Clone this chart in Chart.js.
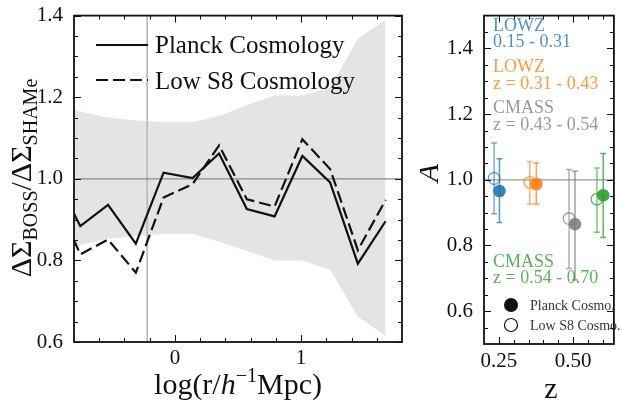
<!DOCTYPE html>
<html>
<head>
<meta charset="utf-8">
<script src="https://cdn.jsdelivr.net/npm/chart.js@4.4.1/dist/chart.umd.min.js"></script>
<style>
  html, body { margin: 0; padding: 0; background: #fff; }
  #wrap { position: relative; width: 621px; height: 407px; overflow: hidden; }
  canvas { position: absolute; top: 0; }
  #left { left: 0; }
  #right { left: 420px; }
</style>
</head>
<body>
<div id="wrap">
  <canvas id="left" width="420" height="407"></canvas>
  <canvas id="right" width="201" height="407"></canvas>
</div>
<script>
// ---- left panel: lensing ratio vs radius ----
const logR     = [-0.97, -0.75, -0.53, -0.31, -0.09, 0.14, 0.35, 0.57, 0.79, 1.01, 1.23, 1.45, 1.67];
const planck   = [1.016, 0.884, 0.936, 0.841, 1.015, 1.002, 1.062, 0.926, 0.908, 1.056, 0.991, 0.792, 0.896];
const lowS8    = [0.965, 0.815, 0.851, 0.770, 0.954, 0.987, 1.082, 0.950, 0.932, 1.097, 1.024, 0.825, 0.948];
const bandHigh = [1.175, 1.165, 1.150, 1.143, 1.139, 1.139, 1.154, 1.180, 1.204, 1.204, 1.223, 1.343, 1.390];
const bandLow  = [0.825, 0.838, 0.853, 0.860, 0.865, 0.865, 0.846, 0.823, 0.800, 0.800, 0.777, 0.662, 0.615];
const refRatio = 1.0;
const refLogR  = -0.22;
const leftXMajor = [0, 1];
const leftXMinor = [-0.6, -0.4, -0.2, 0.2, 0.4, 0.6, 0.8, 1.2, 1.4, 1.6];
const leftYMajor = [0.6, 0.8, 1.0, 1.2, 1.4];
const leftYMinor = [0.65, 0.7, 0.75, 0.85, 0.9, 0.95, 1.05, 1.1, 1.15, 1.25, 1.3, 1.35];

// ---- right panel: amplitude per sample ----
const sampleNames  = ['LOWZ', 'LOWZ', 'CMASS', 'CMASS'];
const sampleRanges = ['0.15 - 0.31', 'z = 0.31 - 0.43', 'z = 0.43 - 0.54', 'z = 0.54 - 0.70'];
const sampleColors = ['#1f77b4', '#ff7f0e', '#7f7f7f', '#2ca02c'];
const zPlanck   = [0.252, 0.376, 0.506, 0.601];
const aPlanck   = [0.966, 0.987, 0.865, 0.953];
const aPlanckLo = [0.870, 0.926, 0.695, 0.824];
const aPlanckHi = [1.064, 1.051, 1.026, 1.080];
const zLowS8    = [0.234, 0.354, 0.486, 0.580];
const aLowS8    = [1.004, 0.992, 0.882, 0.941];
const aLowS8Lo  = [0.897, 0.926, 0.730, 0.840];
const aLowS8Hi  = [1.112, 1.056, 1.031, 1.036];
const refA = 1.0;
const rightXMajor = [0.25, 0.5];
const rightXMinor = [0.3, 0.35, 0.4, 0.45, 0.55, 0.6];
const rightYMajor = [0.6, 0.8, 1.0, 1.2, 1.4];
const rightYMinor = [0.55, 0.65, 0.7, 0.75, 0.85, 0.9, 0.95, 1.05, 1.1, 1.15, 1.25, 1.3, 1.35, 1.45];

const SERIF = "'Liberation Serif', 'DejaVu Serif', serif";
const INK = '#111';
const DASH = [12, 5];

function rgba(hex, a) {
  const n = parseInt(hex.slice(1), 16);
  return `rgba(${n >> 16},${(n >> 8) & 255},${n & 255},${a})`;
}

const pts = (xs, ys) => xs.map((x, i) => ({ x: x, y: ys[i] }));

// text made of pieces (for sub/superscripts), centred on cx along the baseline
function richText(ctx, parts, cx, baseY, angle) {
  ctx.save();
  ctx.translate(cx, baseY);
  ctx.rotate(angle || 0);
  ctx.fillStyle = INK;
  ctx.textBaseline = 'alphabetic';
  let total = 0;
  parts.forEach(p => { ctx.font = p.font; p.w = ctx.measureText(p.t).width; total += p.w; });
  let px = -total / 2;
  parts.forEach(p => { ctx.font = p.font; ctx.fillText(p.t, px, p.dy || 0); px += p.w; });
  ctx.restore();
}

// inward ticks on all sides plus the frame, then any extra drawing
function axisDecor(o) {
  return {
    id: 'axisDecor',
    afterDraw(chart) {
      const { ctx, chartArea: a, scales: { x, y } } = chart;
      ctx.save();
      ctx.strokeStyle = INK;
      ctx.lineWidth = 1.1;
      ctx.beginPath();
      const xt = (vals, len) => vals.forEach(v => {
        const p = Math.round(x.getPixelForValue(v)) + 0.5;
        ctx.moveTo(p, a.bottom); ctx.lineTo(p, a.bottom - len);
        ctx.moveTo(p, a.top); ctx.lineTo(p, a.top + len);
      });
      const yt = (vals, len) => vals.forEach(v => {
        const p = Math.round(y.getPixelForValue(v)) + 0.5;
        ctx.moveTo(a.left, p); ctx.lineTo(a.left + len, p);
        ctx.moveTo(a.right, p); ctx.lineTo(a.right - len, p);
      });
      xt(o.xMajor, 7); xt(o.xMinor, 4);
      yt(o.yMajor, 7); yt(o.yMinor, 4);
      ctx.stroke();
      ctx.lineWidth = 1.8;
      ctx.strokeRect(a.left, a.top, a.right - a.left, a.bottom - a.top);
      ctx.restore();
      o.extra(chart);
    }
  };
}

function scaleOpts(min, max, major, fmt, size) {
  return {
    type: 'linear', min: min, max: max,
    grid: { display: false },
    border: { display: false },
    ticks: { font: { family: SERIF, size: 21 }, color: INK, padding: 3, maxRotation: 0, autoSkip: false, callback: fmt },
    afterBuildTicks: s => { s.ticks = major.map(v => ({ value: v })); },
    afterFit: s => { if (s.isHorizontal()) s.height = size; else s.width = size; }
  };
}

// ---------- left chart ----------
const leftX = scaleOpts(-0.8, 1.8, leftXMajor, v => String(v), 65);
leftX.ticks.padding = -4;

new Chart(document.getElementById('left'), {
  type: 'line',
  data: {
    datasets: [
      { data: pts(logR, planck), borderColor: INK, borderWidth: 2.2, pointRadius: 0, fill: false, order: 0, clip: 0 },
      { data: pts(logR, lowS8), borderColor: INK, borderWidth: 2.2, borderDash: DASH, pointRadius: 0, fill: false, order: 1, clip: 0 },
      { data: [{ x: -0.8, y: refRatio }, { x: 1.8, y: refRatio }], borderColor: '#8a8a8a', borderWidth: 1.2, pointRadius: 0, fill: false, order: 2, clip: 0 },
      { data: [{ x: refLogR, y: 0.6 }, { x: refLogR, y: 1.4 }], borderColor: '#b4b4b4', borderWidth: 1.5, pointRadius: 0, fill: false, order: 3, clip: 0 },
      { data: pts(logR, bandHigh), borderWidth: 0, pointRadius: 0, backgroundColor: '#e4e4e4', fill: '+1', order: 4, clip: 0 },
      { data: pts(logR, bandLow), borderWidth: 0, pointRadius: 0, fill: false, order: 5, clip: 0 }
    ]
  },
  options: {
    responsive: false,
    animation: false,
    layout: { padding: { top: 14, right: 18, left: 0, bottom: 0 } },
    plugins: { legend: { display: false }, tooltip: { enabled: false } },
    scales: {
      x: leftX,
      y: scaleOpts(0.6, 1.4, leftYMajor, v => v.toFixed(1), 74)
    }
  },
  plugins: [axisDecor({
    xMajor: leftXMajor, xMinor: leftXMinor, yMajor: leftYMajor, yMinor: leftYMinor,
    extra(chart) {
      const ctx = chart.ctx;
      // legend
      ctx.save();
      ctx.strokeStyle = INK;
      ctx.lineWidth = 2.2;
      ctx.beginPath(); ctx.moveTo(96, 45); ctx.lineTo(148, 45); ctx.stroke();
      ctx.setLineDash(DASH);
      ctx.beginPath(); ctx.moveTo(96, 80); ctx.lineTo(148, 80); ctx.stroke();
      ctx.setLineDash([]);
      ctx.fillStyle = INK;
      ctx.font = `25px ${SERIF}`;
      ctx.textBaseline = 'alphabetic';
      ctx.fillText('Planck Cosmology', 155, 53);
      ctx.fillText('Low S8 Cosmology', 155, 89);
      ctx.restore();
      // axis titles
      const big = `30px ${SERIF}`, small = `20px ${SERIF}`;
      richText(ctx, [
        { t: 'log(r/', font: big },
        { t: 'h', font: `italic 30px ${SERIF}` },
        { t: '\u22121', font: small, dy: -12 },
        { t: 'Mpc)', font: big }
      ], 238, 394);
      richText(ctx, [
        { t: '\u0394\u03A3', font: big },
        { t: 'BOSS', font: small, dy: 6 },
        { t: '/\u0394\u03A3', font: big },
        { t: 'SHAMe', font: small, dy: 6 }
      ], 31, 178, -Math.PI / 2);
    }
  })]
});

// ---------- right chart ----------
const rightSets = [];
rightSets.push({ type: 'line', data: [{ x: 0.2, y: refA }, { x: 0.637, y: refA }], borderColor: '#999', borderWidth: 1.2, pointRadius: 0, order: 5 });
[[zLowS8, aLowS8Lo, aLowS8Hi, 0.6], [zPlanck, aPlanckLo, aPlanckHi, 0.75]].forEach(([zs, lo, hi, alpha]) => {
  zs.forEach((z, i) => {
    const c = rgba(sampleColors[i], alpha);
    rightSets.push({
      type: 'line', data: [{ x: z, y: lo[i] }, { x: z, y: hi[i] }],
      borderColor: c, borderWidth: 1.5, pointStyle: 'line', pointRadius: 3,
      pointBorderColor: c, pointBorderWidth: 1.5, order: 3
    });
  });
});
rightSets.push({
  type: 'scatter', data: pts(zLowS8, aLowS8), pointRadius: 5.8,
  pointBackgroundColor: 'rgba(0,0,0,0)', pointBorderColor: sampleColors.map(c => rgba(c, 0.75)),
  pointBorderWidth: 1.3, order: 1
});
rightSets.push({
  type: 'scatter', data: pts(zPlanck, aPlanck), pointRadius: 6.3,
  pointBackgroundColor: sampleColors.map(c => rgba(c, 0.9)), pointBorderColor: sampleColors.map(c => rgba(c, 0.9)),
  pointBorderWidth: 0, order: 0
});

const labelRows = [[31, 47], [72, 89], [113, 130], [267, 283]];
const rightX = scaleOpts(0.2, 0.637, rightXMajor, v => v.toFixed(2), 63);
rightX.ticks.padding = -3;

new Chart(document.getElementById('right'), {
  type: 'scatter',
  data: { datasets: rightSets },
  options: {
    responsive: false,
    animation: false,
    layout: { padding: { top: 4, right: 2, left: 0, bottom: 0 } },
    plugins: { legend: { display: false }, tooltip: { enabled: false } },
    scales: {
      x: rightX,
      y: scaleOpts(0.5, 1.5, rightYMajor, v => v.toFixed(1), 64)
    }
  },
  plugins: [axisDecor({
    xMajor: rightXMajor, xMinor: rightXMinor, yMajor: rightYMajor, yMinor: rightYMinor,
    extra(chart) {
      const ctx = chart.ctx;
      ctx.save();
      ctx.textBaseline = 'alphabetic';
      ctx.font = `18px ${SERIF}`;
      sampleNames.forEach((n, i) => {
        ctx.fillStyle = rgba(sampleColors[i], 0.8);
        ctx.fillText(n, 73, labelRows[i][0]);
        ctx.fillText(sampleRanges[i], 73, labelRows[i][1]);
      });
      // marker legend
      ctx.fillStyle = INK;
      ctx.beginPath(); ctx.arc(91, 305, 7, 0, Math.PI * 2); ctx.fill();
      ctx.strokeStyle = INK; ctx.lineWidth = 1.2;
      ctx.beginPath(); ctx.arc(91, 325, 6.5, 0, Math.PI * 2); ctx.stroke();
      ctx.fillStyle = '#333';
      ctx.font = `14px ${SERIF}`;
      ctx.fillText('Planck Cosmo.', 110, 310);
      ctx.fillText('Low S8 Cosmo.', 110, 330);
      ctx.restore();
      richText(ctx, [{ t: 'A', font: `italic 30px ${SERIF}` }], 18, 173, -Math.PI / 2);
      richText(ctx, [{ t: 'z', font: `30px ${SERIF}` }], 131, 398);
    }
  })]
});
</script>
</body>
</html>
